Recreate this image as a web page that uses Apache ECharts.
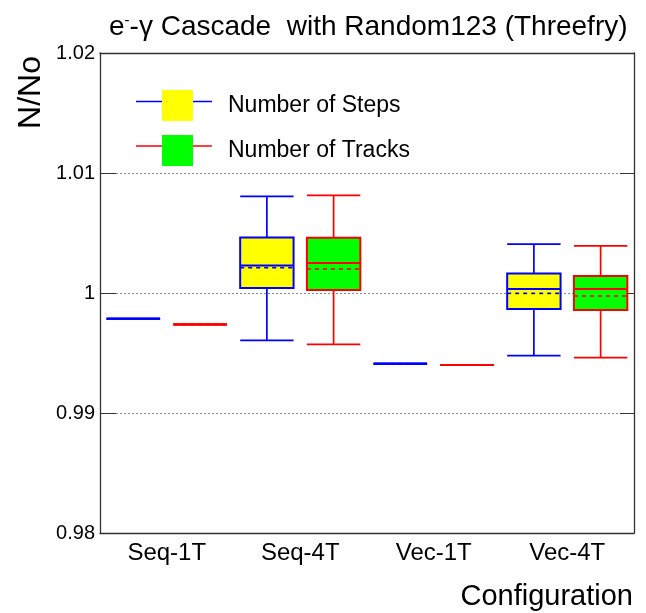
<!DOCTYPE html>
<html>
<head>
<meta charset="utf-8">
<script src="https://cdn.jsdelivr.net/npm/echarts@6/dist/echarts.min.js"></script>
<style>
  html, body { margin: 0; padding: 0; background: #fff; }
  #chart { width: 646px; height: 613px; }
</style>
</head>
<body>
<div id="chart"></div>
<script>
const FONT = '"Liberation Sans", Arial, Helvetica, sans-serif'

const categories = ['Seq-1T', 'Seq-4T', 'Vec-1T', 'Vec-4T']
const yTicks = [0.98, 0.99, 1, 1.01, 1.02]

// Number of Steps
const stepsMin = [0.99786, 0.99605, 0.99411, 0.99478]
const stepsQ1 = [0.99786, 1.00042, 0.99411, 0.99867]
const stepsMedian = [0.99786, 1.0023, 0.99411, 1.00033]
const stepsQ3 = [0.99786, 1.00463, 0.99411, 1.00163]
const stepsMax = [0.99786, 1.00805, 0.99411, 1.00408]
const stepsMean = [0.99786, 1.00211, 0.99411, 0.99997]

// Number of Tracks
const tracksMin = [0.99738, 0.99572, 0.994, 0.99461]
const tracksQ1 = [0.99738, 1.00025, 0.994, 0.99858]
const tracksMedian = [0.99738, 1.0025, 0.994, 1.00033]
const tracksQ3 = [0.99738, 1.00461, 0.994, 1.00142]
const tracksMax = [0.99738, 1.00813, 0.994, 1.00392]
const tracksMean = [0.99738, 1.002, 0.994, 0.99975]

function rows(mn, q1, md, q3, mx, mean) {
  return categories.map((c, i) => [i, mn[i], q1[i], md[i], q3[i], mx[i], mean[i]])
}

// box drawn at +/- a quarter of the band, 40% of the band wide
function boxRenderer(offset, line, fill) {
  return (params, api) => {
    const idx = api.value(0)
    const band = api.size([1, 0])[0]
    const xc = api.coord([idx, 1])[0] + offset * band
    const w = band * 0.4
    const y = k => api.coord([idx, api.value(k)])[1]
    const x0 = xc - w / 2, x1 = xc + w / 2
    const ls = { stroke: line, lineWidth: 1.7 }
    return {
      type: 'group',
      children: [
        { type: 'line', shape: { x1: xc, y1: y(5), x2: xc, y2: y(4) }, style: ls },
        { type: 'line', shape: { x1: xc, y1: y(2), x2: xc, y2: y(1) }, style: ls },
        { type: 'line', shape: { x1: x0, y1: y(5), x2: x1, y2: y(5) }, style: ls },
        { type: 'line', shape: { x1: x0, y1: y(1), x2: x1, y2: y(1) }, style: ls },
        { type: 'rect', shape: { x: x0, y: y(4), width: w, height: y(2) - y(4) },
          style: { fill: fill, stroke: line, lineWidth: 2 } },
        { type: 'line', shape: { x1: x0, y1: y(3), x2: x1, y2: y(3) }, style: { stroke: line, lineWidth: 2 } },
        { type: 'line', shape: { x1: x0, y1: y(6), x2: x1, y2: y(6) },
          style: { stroke: line, lineWidth: 1.6, lineDash: [4, 4] } },
      ],
    }
  }
}

const chart = echarts.init(document.getElementById('chart'), null, { renderer: 'canvas' })

const axisLine = { lineStyle: { color: '#333', width: 1.3 } }

chart.setOption({
  animation: false,
  textStyle: { fontFamily: FONT, color: '#000' },
  title: {
    text: 'e{sup|-}-γ Cascade  with Random123 (Threefry)',
    left: 104,
    top: 8,
    textStyle: {
      fontFamily: FONT, fontWeight: 'normal', fontSize: 28, color: '#000',
      rich: { sup: { fontFamily: FONT, fontSize: 15, color: '#000', padding: [0, 0, 14, 0] } },
    },
  },
  legend: {
    orient: 'vertical',
    left: 157,
    top: 85,
    itemWidth: 31,
    itemHeight: 31,
    itemGap: 14,
    icon: 'rect',
    itemStyle: { borderWidth: 0 },
    textStyle: { fontFamily: FONT, fontSize: 23, color: '#000', padding: [0, 0, 0, 30] },
    data: ['Number of Steps', 'Number of Tracks'],
  },
  graphic: [
    { type: 'line', z: -1, shape: { x1: 136, y1: 101.5, x2: 212, y2: 101.5 }, style: { stroke: '#0000ff', lineWidth: 1.4 } },
    { type: 'line', z: -1, shape: { x1: 136, y1: 146, x2: 212, y2: 146 }, style: { stroke: '#ff0000', lineWidth: 1.4 } },
    { type: 'text', x: 31, y: 56, rotation: Math.PI / 2,
      style: { text: 'N/No', font: '32px ' + FONT, fill: '#000', textAlign: 'right', textVerticalAlign: 'middle' } },
    { type: 'text', x: 633, y: 597,
      style: { text: 'Configuration', font: '29px ' + FONT, fill: '#000', textAlign: 'right', textVerticalAlign: 'middle' } },
  ],
  grid: { left: 100, right: 12, top: 53, bottom: 80 },
  xAxis: [
    {
      type: 'category',
      data: categories,
      axisLine,
      axisTick: { inside: true, length: 15, lineStyle: { color: '#333' } },
      axisLabel: { fontFamily: FONT, fontSize: 24, color: '#000', margin: 8 },
      splitLine: { show: false },
    },
    {
      type: 'category',
      position: 'top',
      data: categories,
      axisLine,
      axisTick: { inside: true, length: 15, lineStyle: { color: '#333' } },
      axisLabel: { show: false },
    },
  ],
  yAxis: [
    {
      type: 'value',
      min: yTicks[0],
      max: yTicks[yTicks.length - 1],
      interval: 0.01,
      axisLine: { show: true, ...axisLine },
      axisTick: { show: true, inside: true, length: 16, lineStyle: { color: '#333' } },
      axisLabel: { fontFamily: FONT, fontSize: 20, color: '#000', margin: 5, formatter: v => String(+v.toFixed(2)) },
      splitLine: { show: true, lineStyle: { color: '#888', type: [2, 2], width: 1 } },
    },
    {
      type: 'value',
      position: 'right',
      min: yTicks[0],
      max: yTicks[yTicks.length - 1],
      interval: 0.01,
      axisLine: { show: true, ...axisLine },
      axisTick: { show: true, inside: true, length: 14, lineStyle: { color: '#333' } },
      axisLabel: { show: false },
      splitLine: { show: false },
    },
  ],
  series: [
    {
      name: 'Number of Steps',
      type: 'custom',
      itemStyle: { color: '#ffff00' },
      encode: { x: 0, y: [1, 2, 3, 4, 5, 6] },
      renderItem: boxRenderer(-0.25, '#0000ff', '#ffff00'),
      data: rows(stepsMin, stepsQ1, stepsMedian, stepsQ3, stepsMax, stepsMean),
      z: 3,
    },
    {
      name: 'Number of Tracks',
      type: 'custom',
      itemStyle: { color: '#00ff00' },
      encode: { x: 0, y: [1, 2, 3, 4, 5, 6] },
      renderItem: boxRenderer(0.25, '#ff0000', '#00ff00'),
      data: rows(tracksMin, tracksQ1, tracksMedian, tracksQ3, tracksMax, tracksMean),
      z: 3,
    },
  ],
})
</script>
</body>
</html>
